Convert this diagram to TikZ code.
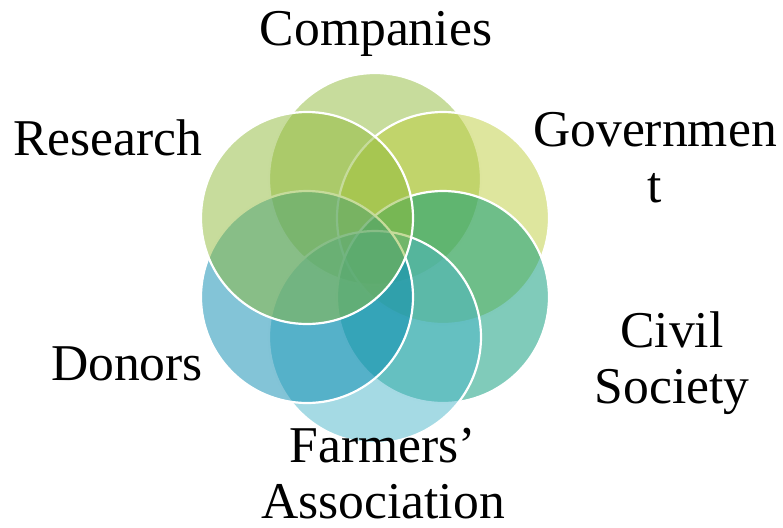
\documentclass[tikz,border=0pt]{standalone}
\usepackage{fontspec}
\setmainfont{Liberation Serif}

% fill colours of the six rings
\definecolor{cCompanies}{RGB}{143,185,57}
\definecolor{cGovernment}{RGB}{189,205,61}
\definecolor{cCivil}{RGB}{1,151,117}
\definecolor{cFarmers}{RGB}{75,181,201}
\definecolor{cDonors}{RGB}{7,137,175}
\definecolor{cResearch}{RGB}{143,185,57}

\begin{document}
\begin{tikzpicture}[x=0.5pt, y=-0.5pt,
  ring/.style={draw=white, line width=1.1pt, fill opacity=0.5},
  actor/.style={font=\fontsize{25.8}{28}\selectfont, align=center, inner sep=0pt, anchor=base}]

% page frame
\useasboundingbox (0,0) rectangle (783,527);

% rings, ring radius 79 around (375,258), each of radius 106
\path[ring, fill=cCompanies]  (375,179) circle [radius=106];
\path[ring, fill=cGovernment] (443,218) circle [radius=106];
\path[ring, fill=cCivil]      (443,297) circle [radius=106];
\path[ring, fill=cFarmers]    (375,337) circle [radius=106];
\path[ring, fill=cDonors]     (307,297) circle [radius=106];
\path[ring, fill=cResearch]   (307,218) circle [radius=106];

% labels (base = baseline of the last line)
\node[actor] (companies)  at (376,45)  {Companies};
\node[actor] (government) at (655,202) {Governmen\\t};
\node[actor] (civil)      at (672,403) {Civil\\Society};
\node[actor] (farmers)    at (383,518) {Farmers’\\Association};
\node[actor] (donors)     at (127,380) {Donors};
\node[actor] (research)   at (108,155) {Research};

\end{tikzpicture}
\end{document}
